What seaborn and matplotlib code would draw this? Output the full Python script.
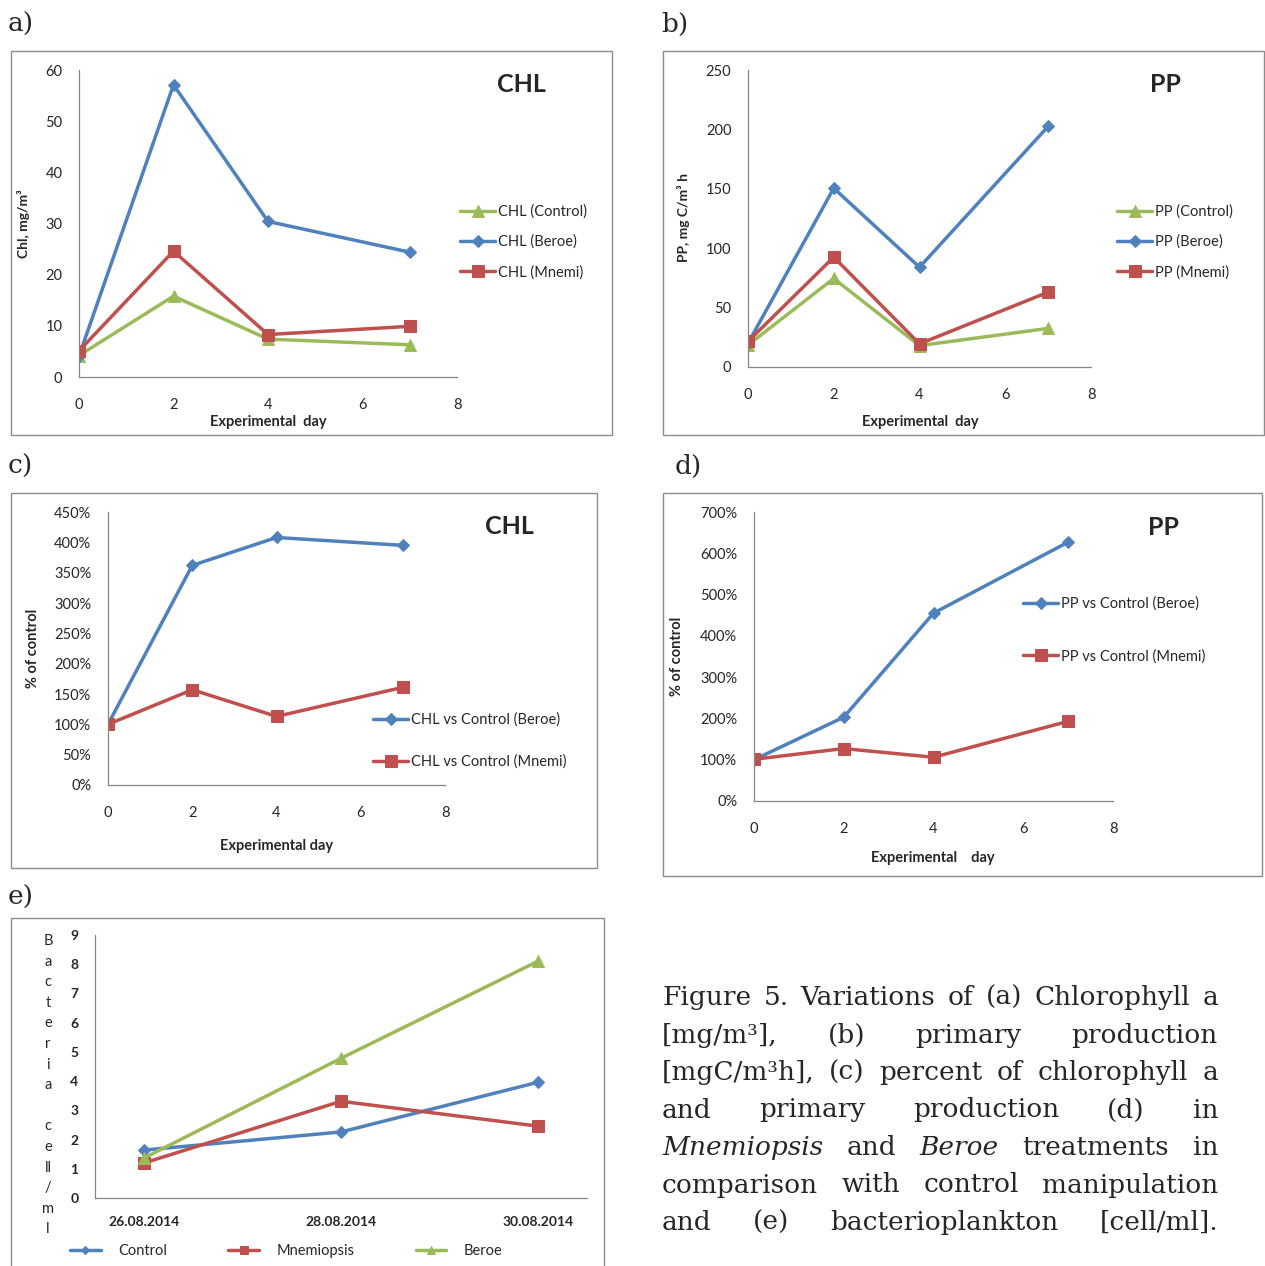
import matplotlib
matplotlib.use("Agg")
import matplotlib.pyplot as plt
import numpy as np
import pandas as pd
import seaborn as sns
from matplotlib.patches import Rectangle
from matplotlib.ticker import PercentFormatter, FixedLocator

sns.set_style("white")
plt.rcParams['font.family'] = ['Lato', 'DejaVu Sans']

# ---- data ----
days = [0, 2, 4, 7]
chl_control = [4.2, 15.8, 7.4, 6.3]
chl_beroe = [4.1, 57.1, 30.4, 24.4]
chl_mnemi = [5.1, 24.6, 8.3, 9.9]

pp_control = [18.5, 74.5, 18.0, 32.5]
pp_beroe = [20.0, 150.5, 84.0, 202.5]
pp_mnemi = [21.5, 92.5, 19.5, 63.0]

chl_pct_beroe = [100, 362, 408, 395]
chl_pct_mnemi = [100, 157, 113, 161]

pp_pct_beroe = [100, 203, 455, 627]
pp_pct_mnemi = [101, 127, 106, 193]

bact_dates = ["26.08.2014", "28.08.2014", "30.08.2014"]
bact_control = [1.64, 2.26, 3.96]
bact_mnemi = [1.20, 3.31, 2.46]
bact_beroe = [1.37, 4.78, 8.10]

BLUE, RED, GREEN = "#4F81BD", "#C0504D", "#9BBB59"
GREY = "#868686"

W, H = 1265, 1266
fig = plt.figure(figsize=(W / 100, H / 100), dpi=100)


def fx(x):
    return x / W


def fy(y):
    return 1 - y / H


def add_ax(l, t, r, b):
    return fig.add_axes([l / W, 1 - b / H, (r - l) / W, (b - t) / H])


def frame_box(l, t, r, b):
    fig.patches.append(Rectangle((fx(l), fy(b)), (r - l) / W, (b - t) / H,
                                 transform=fig.transFigure, fill=False,
                                 edgecolor="#8c8c8c", linewidth=1.0))


def style_ax(ax, xmax, ylim, yticks):
    ax.set_xlim(0, xmax)
    ax.set_ylim(*ylim)
    ax.set_yticks(yticks)
    ax.set_xticks(np.arange(0, xmax + 1, 2))
    for s in ["top", "right"]:
        ax.spines[s].set_visible(False)
    for s in ["left", "bottom"]:
        ax.spines[s].set_color(GREY)
        ax.spines[s].set_linewidth(0.9)
    ax.tick_params(axis="x", direction="inout", length=6, width=0.9,
                   color=GREY, pad=12, labelsize=10.5)
    ax.tick_params(axis="y", direction="out", length=4, width=0.9,
                   color=GREY, pad=8, labelsize=10.5)
    ax.set_xlabel("")
    ax.set_ylabel("")


def series(ax, x, y, color, marker, ms, label):
    sns.lineplot(x=x, y=y, ax=ax, color=color, marker=marker, markersize=ms,
                 markeredgecolor=color, linewidth=2.5, label=label)


# ---- panel boxes & labels ----
frame_box(11, 51, 612, 435)
frame_box(663, 51, 1264, 435)
frame_box(11, 493, 597, 868)
frame_box(663, 493, 1262, 876)
frame_box(11, 918, 604, 1275)

lab_kw = dict(fontsize=19, family=["DejaVu Serif"], va="center", ha="left")
fig.text(fx(8), fy(24), "a)", **lab_kw)
fig.text(fx(661), fy(24), "b)", **lab_kw)
fig.text(fx(8), fy(466), "c)", **lab_kw)
fig.text(fx(675), fy(466), "d)", **lab_kw)
fig.text(fx(8), fy(897), "e)", **lab_kw)

leg_kw = dict(frameon=False, fontsize=10.5, handletextpad=0.2, borderpad=0,
              borderaxespad=0, handlelength=2.4, loc="center left",
              bbox_transform=fig.transFigure)

# ---- a) CHL ----
ax = add_ax(79, 70, 457, 377)
series(ax, days, chl_control, GREEN, "^", 8, "CHL (Control)")
series(ax, days, chl_beroe, BLUE, "D", 6, "CHL (Beroe)")
series(ax, days, chl_mnemi, RED, "s", 8.5, "CHL (Mnemi)")
style_ax(ax, 8, (0, 60), np.arange(0, 61, 10))
ax.legend(bbox_to_anchor=(fx(460), fy(242)), labelspacing=1.1, **leg_kw)
fig.text(fx(521), fy(85), "CHL", fontsize=18, fontweight="bold", ha="center", va="center")
fig.text(fx(268), fy(422), "Experimental  day", fontsize=10.5, fontweight="bold", ha="center", va="center")
fig.text(fx(24), fy(224), "Chl, mg/m³", fontsize=10, fontweight="bold", rotation=90, ha="center", va="center")

# ---- b) PP ----
ax = add_ax(748, 70, 1091, 367)
series(ax, days, pp_control, GREEN, "^", 8, "PP (Control)")
series(ax, days, pp_beroe, BLUE, "D", 6, "PP (Beroe)")
series(ax, days, pp_mnemi, RED, "s", 8.5, "PP (Mnemi)")
style_ax(ax, 8, (0, 250), np.arange(0, 251, 50))
ax.legend(bbox_to_anchor=(fx(1117), fy(242)), labelspacing=1.1, **leg_kw)
fig.text(fx(1165), fy(85), "PP", fontsize=18, fontweight="bold", ha="center", va="center")
fig.text(fx(920), fy(422), "Experimental  day", fontsize=10.5, fontweight="bold", ha="center", va="center")
fig.text(fx(684), fy(218), "PP, mg C/m³ h", fontsize=10, fontweight="bold", rotation=90, ha="center", va="center")

# ---- c) CHL % ----
ax = add_ax(108, 512, 445, 785)
series(ax, days, chl_pct_beroe, BLUE, "D", 6, "CHL vs Control (Beroe)")
series(ax, days, chl_pct_mnemi, RED, "s", 8.5, "CHL vs Control (Mnemi)")
style_ax(ax, 8, (0, 450), np.arange(0, 451, 50))
ax.yaxis.set_major_formatter(PercentFormatter(xmax=100, decimals=0))
ax.legend(bbox_to_anchor=(fx(373), fy(741)), labelspacing=1.9, **leg_kw)
fig.text(fx(509), fy(526), "CHL", fontsize=18, fontweight="bold", ha="center", va="center")
fig.text(fx(277), fy(846), "Experimental day", fontsize=10.5, fontweight="bold", ha="center", va="center")
fig.text(fx(33), fy(648), "% of control", fontsize=10.5, fontweight="bold", rotation=90, ha="center", va="center")

# ---- d) PP % ----
ax = add_ax(754, 512, 1113, 801)
series(ax, days, pp_pct_beroe, BLUE, "D", 6, "PP vs Control (Beroe)")
series(ax, days, pp_pct_mnemi, RED, "s", 8.5, "PP vs Control (Mnemi)")
style_ax(ax, 8, (0, 700), np.arange(0, 701, 100))
ax.yaxis.set_major_formatter(PercentFormatter(xmax=100, decimals=0))
ax.legend(bbox_to_anchor=(fx(1023), fy(630)), labelspacing=2.6, **leg_kw)
fig.text(fx(1163), fy(527), "PP", fontsize=18, fontweight="bold", ha="center", va="center")
fig.text(fx(933), fy(858), "Experimental    day", fontsize=10.5, fontweight="bold", ha="center", va="center")
fig.text(fx(677), fy(656), "% of control", fontsize=10.5, fontweight="bold", rotation=90, ha="center", va="center")

# ---- e) bacteria ----
dts = pd.to_datetime(bact_dates, format="%d.%m.%Y")
bx = np.array([(d - dts[0]).days for d in dts], dtype=float)
ax = add_ax(95, 935, 587, 1198)
series(ax, bx, bact_control, BLUE, "D", 6, "Control")
series(ax, bx, bact_mnemi, RED, "s", 8.5, "Mnemiopsis")
series(ax, bx, bact_beroe, GREEN, "^", 8, "Beroe")
ax.set_xlim(bx[0] - 0.5, bx[-1] + 0.5)
ax.set_ylim(0, 9)
ax.set_yticks(np.arange(0, 10, 1))
ax.set_xticks(bx)
ax.set_xticklabels(bact_dates)
ax.xaxis.set_minor_locator(FixedLocator(bx - 1))
for s in ["top", "right"]:
    ax.spines[s].set_visible(False)
for s in ["left", "bottom"]:
    ax.spines[s].set_color(GREY)
    ax.spines[s].set_linewidth(0.9)
ax.tick_params(axis="x", which="major", length=0, pad=13, labelsize=10)
ax.tick_params(axis="x", which="minor", direction="out", length=4, width=0.9, color=GREY)
ax.tick_params(axis="y", direction="out", length=4, width=0.9, color=GREY, pad=8, labelsize=10)
for t in ax.get_xticklabels() + ax.get_yticklabels():
    t.set_fontweight("bold")
ax.set_xlabel("")
ax.set_ylabel("")
ax.legend(bbox_to_anchor=(fx(70), fy(1251)), ncol=3, frameon=False, fontsize=10.5,
          handlelength=2.1, handletextpad=1.2, columnspacing=4.2, borderpad=0,
          borderaxespad=0, loc="center left", bbox_transform=fig.transFigure,
          markerscale=0.7)

ylab_tokens = ["B", "a", "c", "t", "e", "r", "i", "a", "", "c", "e", "ll", "/", "m", "l"]
for i, tok in enumerate(ylab_tokens):
    fig.text(fx(48), fy(941 + i * 20.6), tok, fontsize=10.5, ha="center", va="center")

# ---- caption (justified) ----
caption = [
    [("Figure", "normal"), ("5.", "normal"), ("Variations", "normal"), ("of", "normal"),
     ("(a)", "normal"), ("Chlorophyll", "normal"), ("a", "normal")],
    [("[mg/m³],", "normal"), ("(b)", "normal"), ("primary", "normal"), ("production", "normal")],
    [("[mgC/m³h],", "normal"), ("(c)", "normal"), ("percent", "normal"), ("of", "normal"),
     ("chlorophyll", "normal"), ("a", "normal")],
    [("and", "normal"), ("primary", "normal"), ("production", "normal"), ("(d)", "normal"),
     ("in", "normal")],
    [("Mnemiopsis", "italic"), ("and", "normal"), ("Beroe", "italic"), ("treatments", "normal"),
     ("in", "normal")],
    [("comparison", "normal"), ("with", "normal"), ("control", "normal"), ("manipulation", "normal")],
    [("and", "normal"), ("(e)", "normal"), ("bacterioplankton", "normal"), ("[cell/ml].", "normal")],
]
cap_left, cap_right = 662, 1218
cap_font = ["DejaVu Serif"]
renderer = fig.canvas.get_renderer()

# shrink the caption size if the first line would not fit with normal spaces
cap_size = 19.0
probe = fig.text(0, 0, " ".join(w for w, _ in caption[0]), fontsize=cap_size, family=cap_font)
natural = probe.get_window_extent(renderer).width
probe.remove()
if natural > cap_right - cap_left:
    cap_size *= (cap_right - cap_left) / natural

for i, words in enumerate(caption):
    base = 1005 + i * 37.5
    texts = [fig.text(0, 0, w, fontsize=cap_size, family=cap_font,
                      style=st, va="baseline", ha="left") for w, st in words]
    widths = [t.get_window_extent(renderer).width for t in texts]
    gap = (cap_right - cap_left - sum(widths)) / (len(words) - 1)
    x = cap_left
    for t, w in zip(texts, widths):
        t.set_position((fx(x), fy(base)))
        x += w + gap

fig.savefig("out.png", dpi=100)
